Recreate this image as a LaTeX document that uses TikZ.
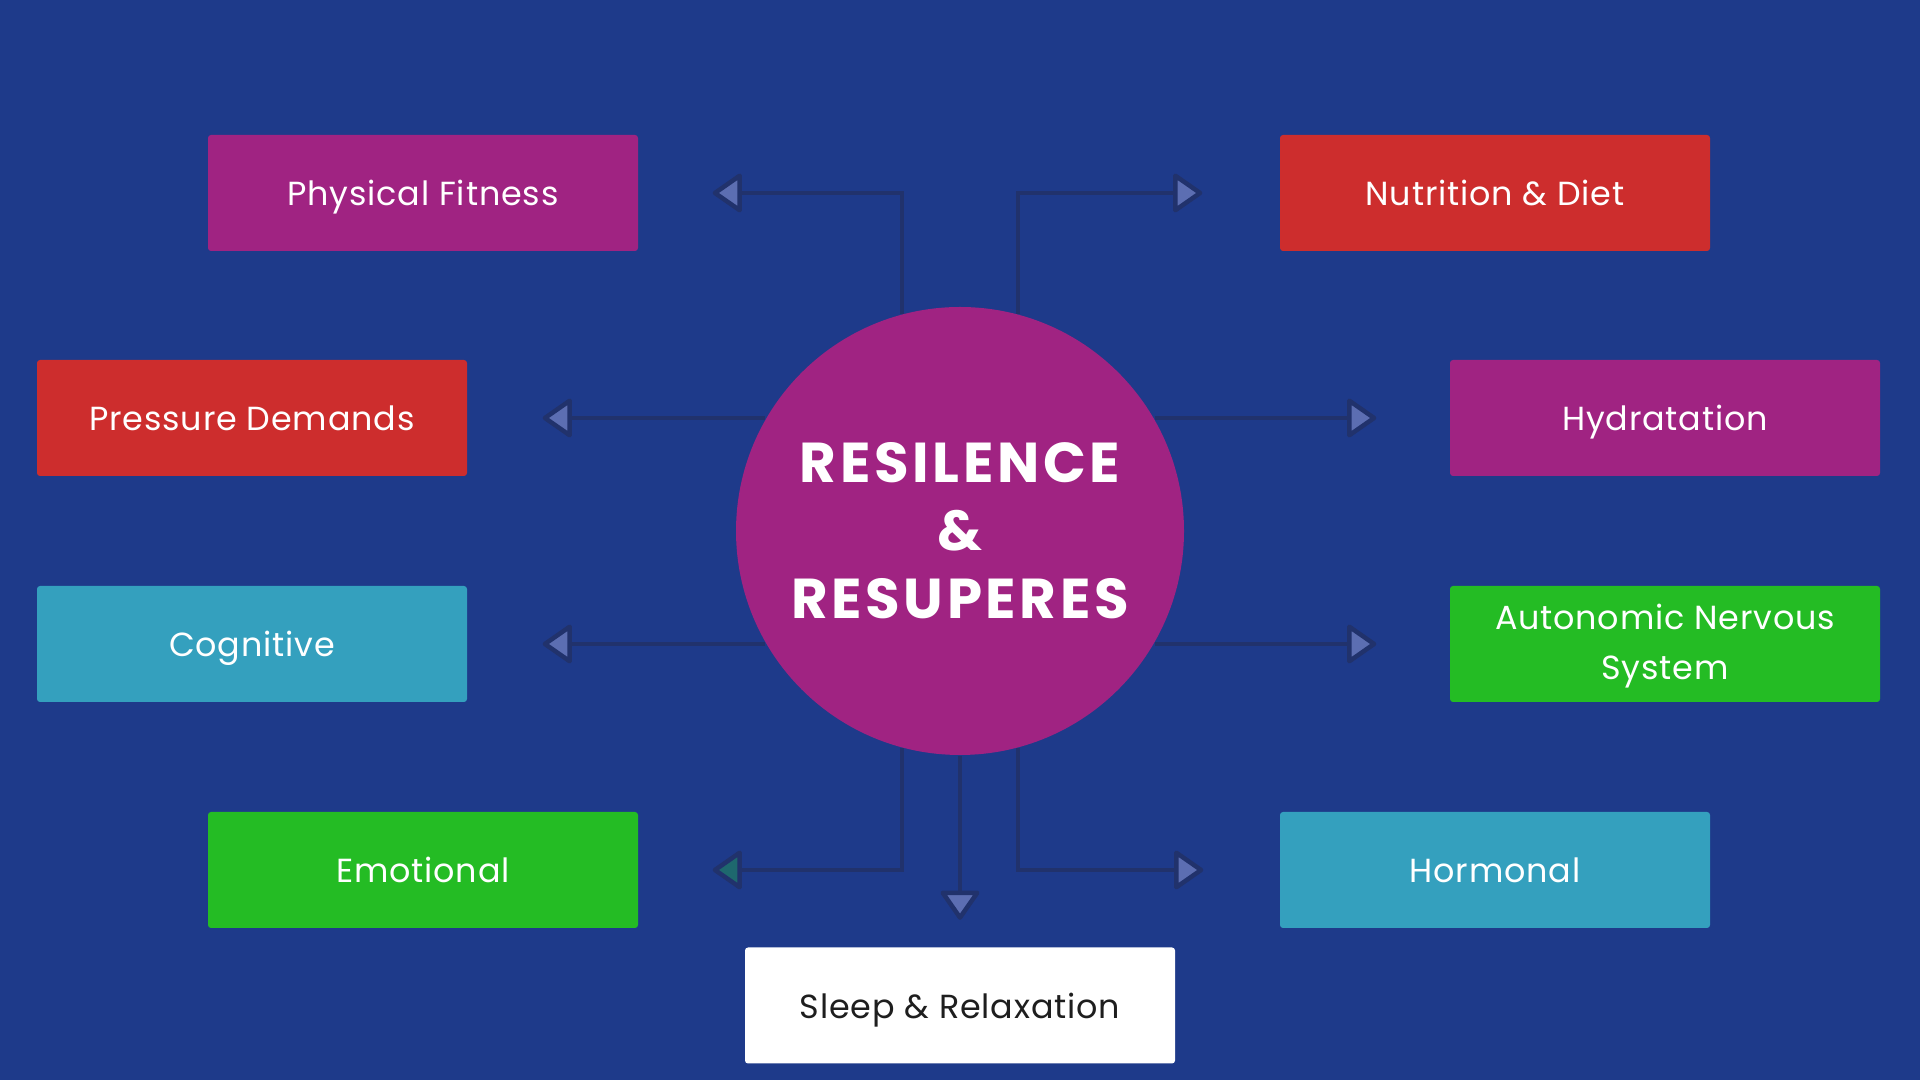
\documentclass[tikz,border=0pt]{standalone}
\usepackage{fontspec}
\setmainfont{Poppins}[LetterSpace=2.5]
\newfontfamily\titlefont{Poppins}[LetterSpace=6.5]
\usetikzlibrary{arrows.meta, positioning}

\definecolor{bgblue}{RGB}{30,58,138}
\definecolor{linkblue}{RGB}{33,50,108}
\definecolor{tipblue}{RGB}{92,110,178}
\definecolor{tipteal}{RGB}{30,104,110}
\definecolor{boxpurple}{RGB}{160,35,130}
\definecolor{boxred}{RGB}{205,45,45}
\definecolor{boxcyan}{RGB}{52,160,190}
\definecolor{boxgreen}{RGB}{36,188,36}
\definecolor{darktext}{RGB}{30,30,30}

\tikzset{
    factor/.style={rectangle, rounded corners=0.03cm, minimum width=4.3cm, minimum height=1.16cm,
        text=white, align=center, font=\fontsize{9.5}{14}\selectfont,
        text height=0.74em, text depth=0.02em},
    link/.style={draw=linkblue, line width=0.04cm,
        -{Triangle[fill=#1, length=0.31cm, width=0.42cm, line width=0.045cm, round]}},
    link/.default=tipblue
}

\begin{document}
\begin{tikzpicture}
    % Background
    \fill[bgblue] (0,0) rectangle (19.2,10.8);
    \useasboundingbox (0,0) rectangle (19.2,10.8);
    % Factor boxes
    \node[factor, fill=boxpurple] (fit) at (4.23,8.87) {Physical Fitness};
    \node[factor, fill=boxred] (nut) at (14.95,8.87) {Nutrition \& Diet};
    \node[factor, fill=boxred] (pres) at (2.52,6.62) {Pressure Demands};
    \node[factor, fill=boxpurple] (hyd) at (16.65,6.62) {Hydratation};
    \node[factor, fill=boxcyan] (cog) at (2.52,4.36) {Cognitive};
    \node[factor, fill=boxgreen, text height=2.02em] (ans) at (16.65,4.36) {Autonomic Nervous\\System};
    \node[factor, fill=boxgreen] (emo) at (4.23,2.10) {Emotional};
    \node[factor, fill=boxcyan] (hor) at (14.95,2.10) {Hormonal};
    \node[factor, fill=white, text=darktext] (sleep) at (9.6,0.745) {Sleep \& Relaxation};
    % Arrow tips in front of the boxes
    \coordinate (tipfit) at ([xshift=0.74cm]fit.east);
    \coordinate (tipnut) at ([xshift=-0.77cm]nut.west);
    \coordinate (tippres) at ([xshift=0.75cm]pres.east);
    \coordinate (tiphyd) at ([xshift=-0.73cm]hyd.west);
    \coordinate (tipcog) at ([xshift=0.75cm]cog.east);
    \coordinate (tipans) at ([xshift=-0.73cm]ans.west);
    \coordinate (tipemo) at ([xshift=0.74cm]emo.east);
    \coordinate (tiphor) at ([xshift=-0.76cm]hor.west);
    \coordinate (tipsleep) at ([yshift=0.27cm]sleep.north);
    % Center circle
    \node[circle, fill=boxpurple, minimum size=4.48cm, text=white, align=center,
        font=\titlefont\bfseries\fontsize{16}{19.3}\selectfont] (res) at (9.6,5.49)
        {RESILENCE\\\&\\RESUPERES};
    % Connectors
    \draw[link] (res.105) |- (tipfit);
    \draw[link] (res.75) |- (tipnut);
    \draw[link] (res.150 |- tippres) -- (tippres);
    \draw[link] (res.30 |- tiphyd) -- (tiphyd);
    \draw[link] (res.210 |- tipcog) -- (tipcog);
    \draw[link] (res.330 |- tipans) -- (tipans);
    \draw[link=tipteal] (res.255) |- (tipemo);
    \draw[link] (res.285) |- (tiphor);
    \draw[link] (res.south) -- (tipsleep);
\end{tikzpicture}
\end{document}
